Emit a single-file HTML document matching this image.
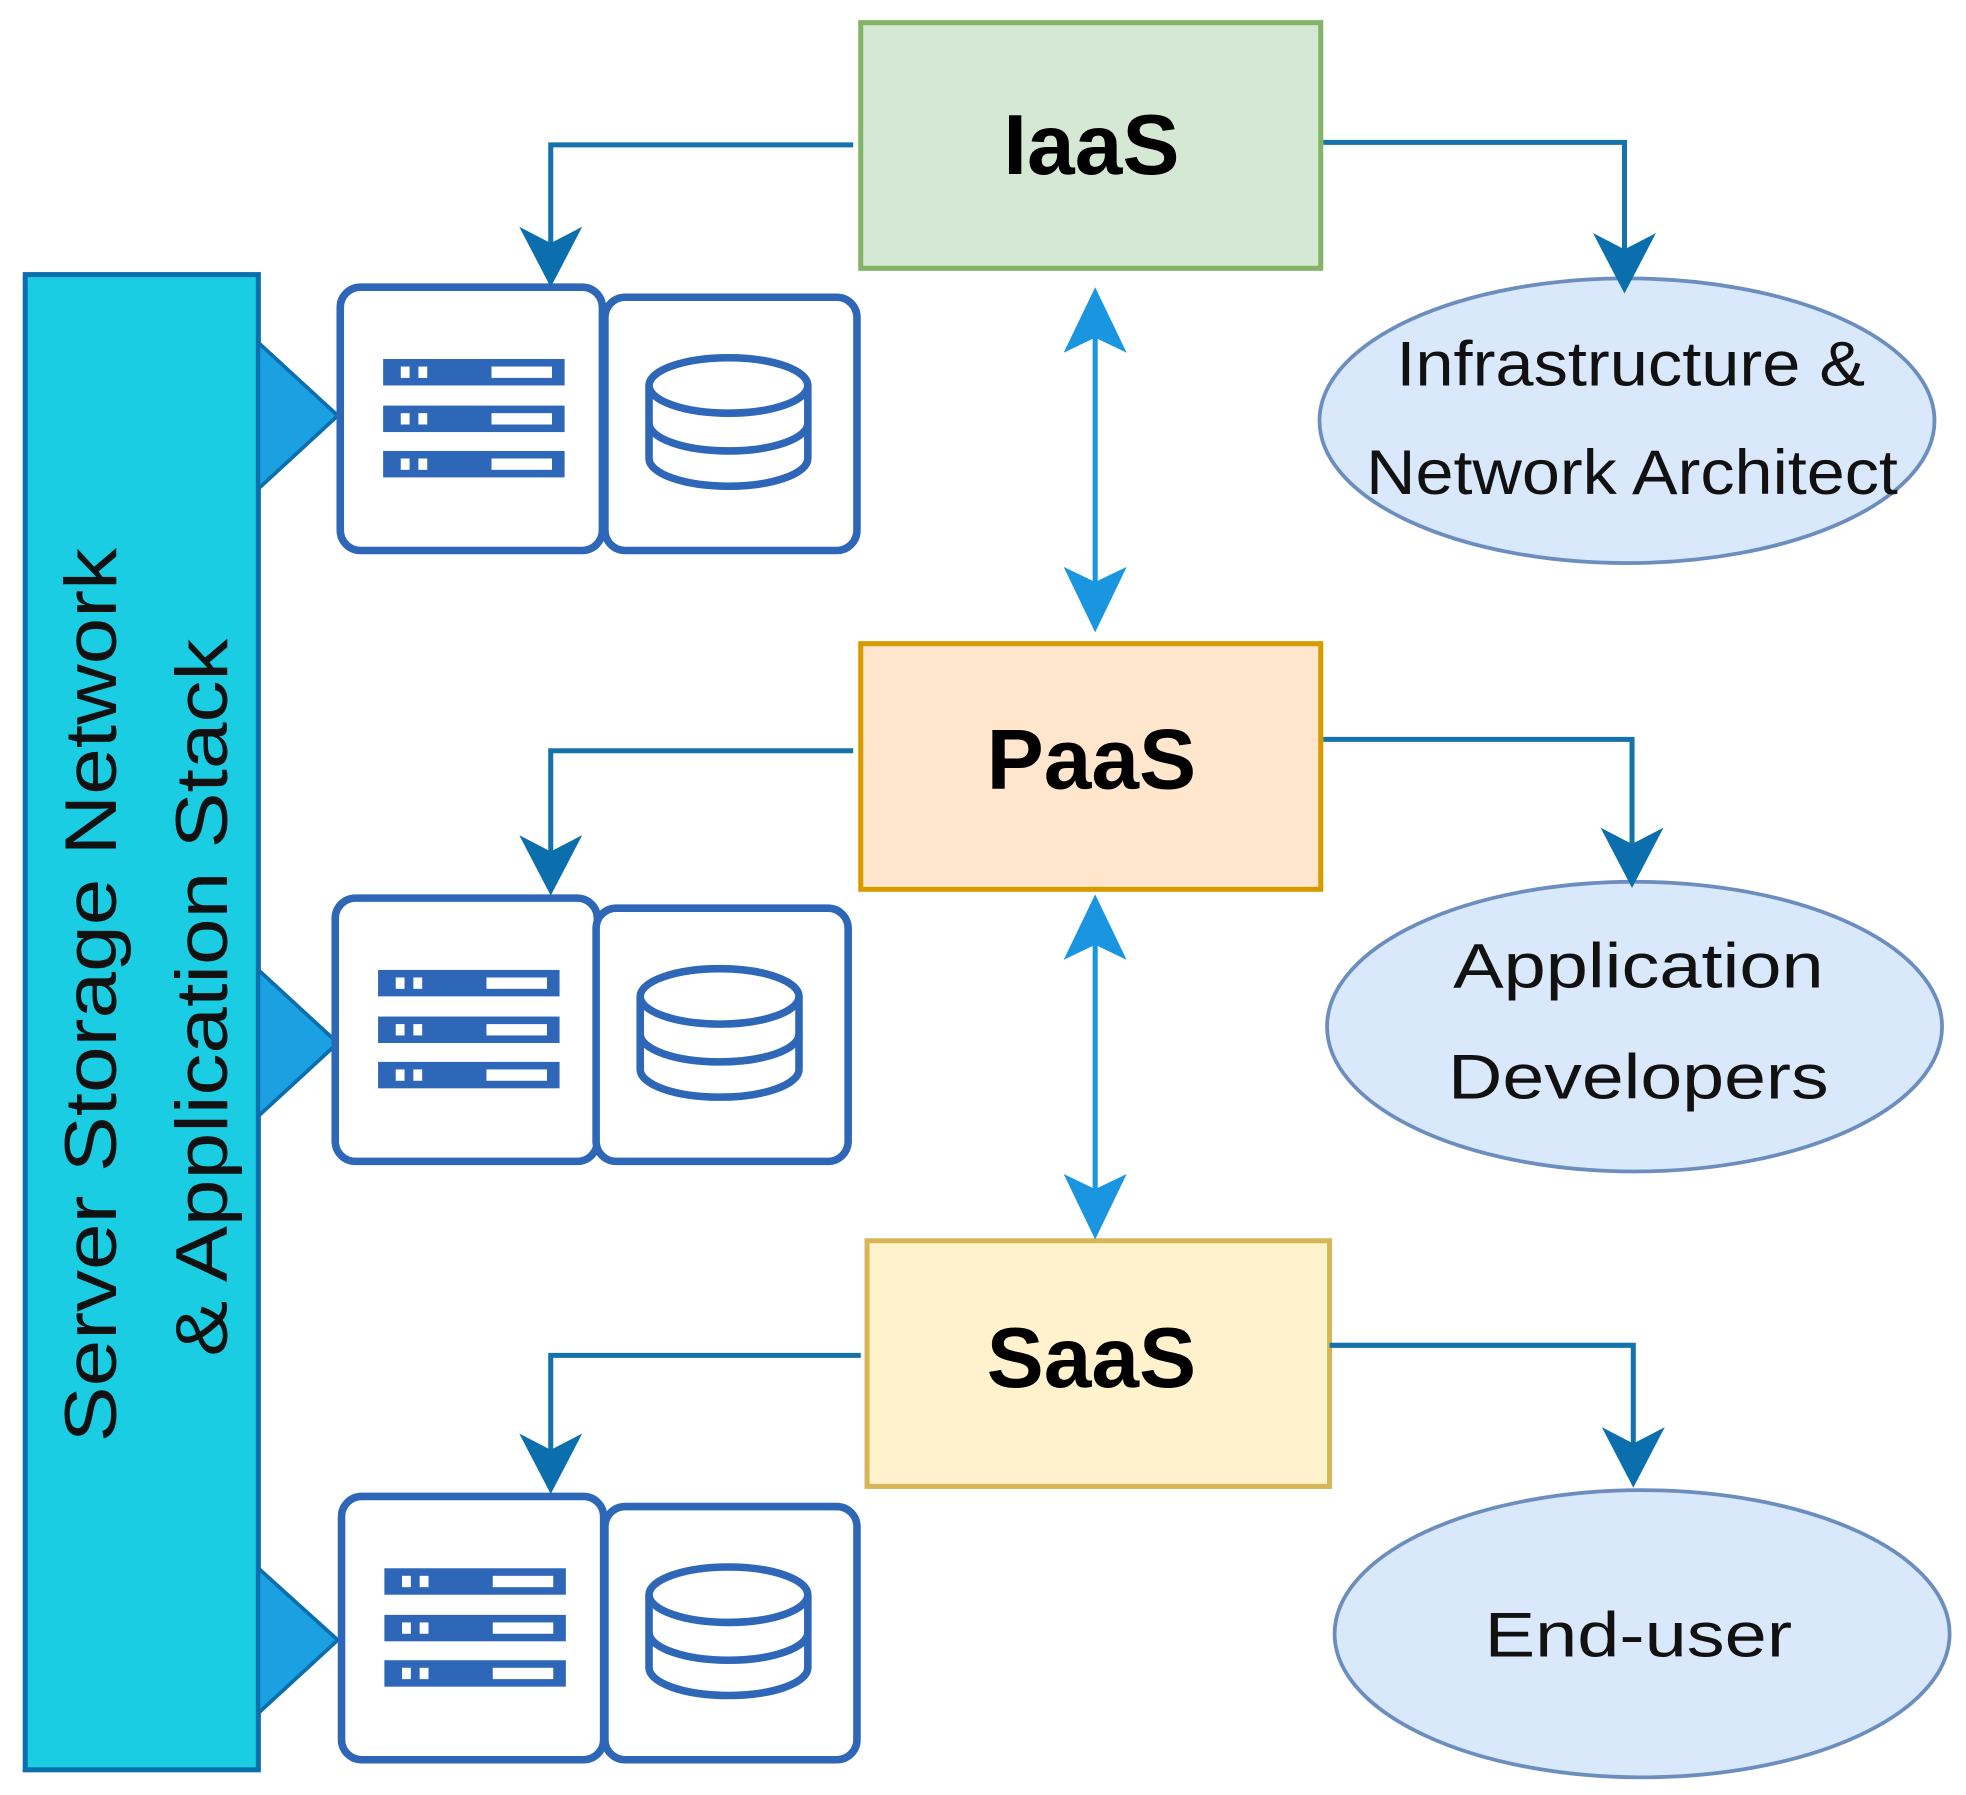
<!DOCTYPE html>
<html><head><meta charset="utf-8"><style>html,body{margin:0;padding:0;background:#fff}svg{display:block}</style></head>
<body>
<svg width="1966" height="1795" viewBox="0 0 1560 1425" preserveAspectRatio="none" xmlns="http://www.w3.org/2000/svg">
<defs>
<g id="srv">
  <rect x="0" y="0" width="208" height="209" rx="16" fill="#fff" stroke="#2f67b8" stroke-width="6"/>
  <g fill="#2f67b8">
    <rect x="34" y="57" width="144" height="21"/><rect x="34" y="94" width="144" height="21"/><rect x="34" y="130" width="144" height="21"/>
  </g>
  <g fill="#fff">
    <rect x="48" y="63" width="7" height="9"/><rect x="62" y="63" width="7" height="9"/><rect x="120" y="63" width="48" height="9"/>
    <rect x="48" y="100" width="7" height="9"/><rect x="62" y="100" width="7" height="9"/><rect x="120" y="100" width="48" height="9"/>
    <rect x="48" y="136" width="7" height="9"/><rect x="62" y="136" width="7" height="9"/><rect x="120" y="136" width="48" height="9"/>
  </g>
</g>
<g id="db">
  <rect x="0" y="0" width="200" height="201" rx="16" fill="#fff" stroke="#2f67b8" stroke-width="6"/>
  <g fill="none" stroke="#2f67b8" stroke-width="6">
    <ellipse cx="98" cy="70" rx="63" ry="22"/>
    <path d="M35 70 V128 A63 22 0 0 0 161 128 V70"/>
    <path d="M35 100 A63 22 0 0 0 161 100"/>
  </g>
</g>
<marker id="ah" viewBox="0 0 10 10" refX="9" refY="5" markerWidth="5" markerHeight="5" orient="auto" markerUnits="userSpaceOnUse"></marker>
</defs>

<!-- left bar -->
<rect x="20" y="218" width="185" height="1187" fill="#1bcde3" stroke="#0b6fae" stroke-width="4"/>
<g font-family="Liberation Sans, sans-serif" font-size="58" fill="#111" text-anchor="middle">
  <text transform="translate(92,790) rotate(-90)" textLength="710" lengthAdjust="spacingAndGlyphs">Server Storage Network</text>
  <text transform="translate(180,792) rotate(-90)" textLength="570" lengthAdjust="spacingAndGlyphs">&amp; Application Stack</text>
</g>
<g fill="#1ba1e2" stroke="#0b6fae" stroke-width="3">
  <path d="M205 272 L268 330 L205 388 Z"/>
  <path d="M205 770 L268 828 L205 886 Z"/>
  <path d="M205 1245 L268 1302 L205 1360 Z"/>
</g>

<!-- server groups -->
<use href="#srv" x="270" y="228"/><use href="#db" x="480" y="236"/>
<use href="#srv" x="266" y="713"/><use href="#db" x="473" y="721"/>
<use href="#srv" x="271" y="1188"/><use href="#db" x="480" y="1196"/>

<!-- service boxes -->
<rect x="683" y="18" width="365" height="195" fill="#d5e8d4" stroke="#82b366" stroke-width="4"/>
<rect x="683" y="511" width="365" height="195" fill="#ffe6cc" stroke="#d79b00" stroke-width="4"/>
<rect x="688" y="985" width="367" height="195" fill="#fff2cc" stroke="#d6b656" stroke-width="4"/>
<g font-family="Liberation Sans, sans-serif" font-weight="bold" font-size="68" fill="#000" text-anchor="middle">
  <text x="866" y="138">IaaS</text>
  <text x="866" y="626">PaaS</text>
  <text x="866" y="1101">SaaS</text>
</g>

<!-- ellipses -->
<g fill="#dae8fc" stroke="#6c8ebf" stroke-width="3">
  <ellipse cx="1291" cy="334" rx="244" ry="113"/>
  <ellipse cx="1297" cy="815" rx="244" ry="115"/>
  <ellipse cx="1303" cy="1297" rx="244" ry="114"/>
</g>
<g font-family="Liberation Sans, sans-serif" font-size="50" fill="#111" text-anchor="middle">
  <text x="1294" y="306" textLength="372" lengthAdjust="spacingAndGlyphs">Infrastructure &amp;</text>
  <text x="1295" y="392" textLength="422" lengthAdjust="spacingAndGlyphs">Network Architect</text>
  <text x="1300" y="784" textLength="294" lengthAdjust="spacingAndGlyphs">Application</text>
  <text x="1300" y="872" textLength="302" lengthAdjust="spacingAndGlyphs">Developers</text>
  <text x="1300" y="1315" textLength="244" lengthAdjust="spacingAndGlyphs">End-user</text>
</g>

<!-- connectors -->
<g fill="none" stroke="#1572aa" stroke-width="4">
  <path d="M677 115 H437 V200"/>
  <path d="M1050 113 H1289 V205"/>
  <path d="M677 596 H437 V690"/>
  <path d="M1050 587 H1295 V685"/>
  <path d="M683 1076 H437 V1165"/>
  <path d="M1055 1068 H1296 V1165"/>
</g>
<g fill="#0b6fae">
  <path d="M412 180 L437 193 L462 180 L437 228 Z"/>
  <path d="M1264 185 L1289 198 L1314 185 L1289 233 Z"/>
  <path d="M412 663 L437 676 L462 663 L437 711 Z"/>
  <path d="M1270 657 L1295 670 L1320 657 L1295 705 Z"/>
  <path d="M412 1138 L437 1151 L462 1138 L437 1186 Z"/>
  <path d="M1271 1133 L1296 1146 L1321 1133 L1296 1181 Z"/>
</g>

<!-- double arrows -->
<g stroke="#1a95e0" stroke-width="4">
  <line x1="869" y1="250" x2="869" y2="480"/>
  <line x1="869" y1="735" x2="869" y2="960"/>
</g>
<g fill="#1a95e0">
  <path d="M869 228 L894 280 L869 268 L844 280 Z"/>
  <path d="M869 502 L894 450 L869 462 L844 450 Z"/>
  <path d="M869 710 L894 762 L869 750 L844 762 Z"/>
  <path d="M869 984 L894 932 L869 944 L844 932 Z"/>
</g>
</svg>
</body></html>
